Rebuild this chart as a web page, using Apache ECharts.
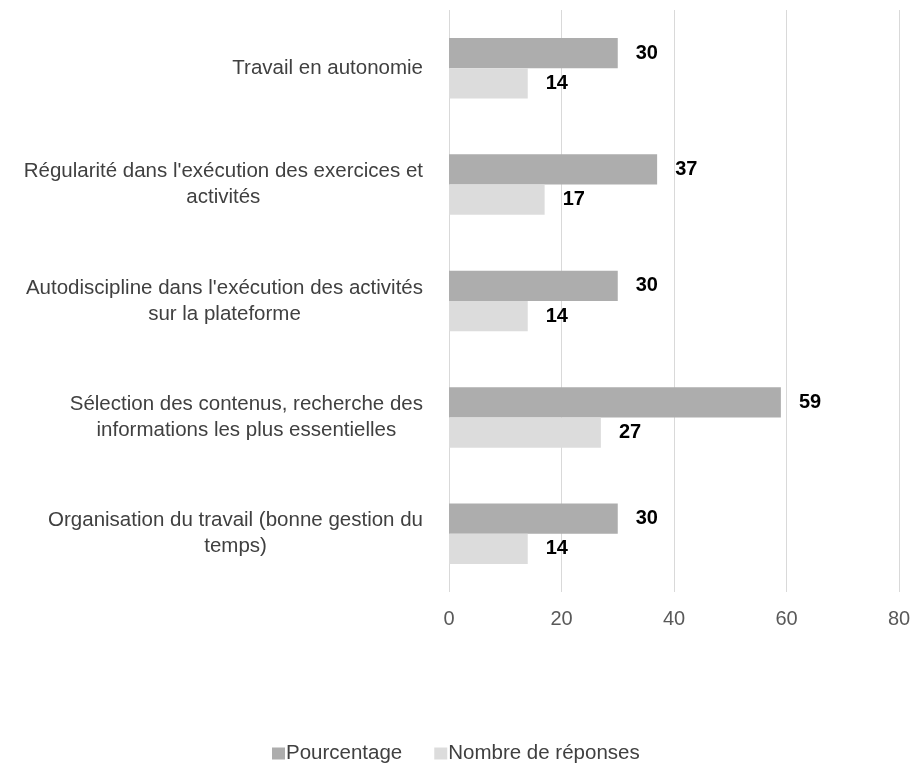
<!DOCTYPE html>
<html>
<head>
<meta charset="utf-8">
<script src="https://cdn.jsdelivr.net/npm/echarts@6/dist/echarts.min.js"></script>
<style>html,body{margin:0;padding:0;background:#fff}#c{width:914px;height:765px}</style>
</head>
<body>
<div id="c"></div>
<script>
var categories = [
  "Travail en autonomie",
  "Régularité dans l'exécution des exercices et\nactivités",
  "Autodiscipline dans l'exécution des activités\nsur la plateforme",
  "Sélection des contenus, recherche des\ninformations les plus essentielles",
  "Organisation du travail (bonne gestion du\ntemps)"
];
var pourcentage = [30, 37, 30, 59, 30];
var nombre = [14, 17, 14, 27, 14];
var xTicks = [0, 20, 40, 60, 80];
var seriesNames = ["Pourcentage", "Nombre de réponses"];

var FONT = 'Liberation Sans, Arial, sans-serif';
var chart = echarts.init(document.getElementById('c'), null, {renderer: 'canvas'});
var labelStyle = {show: true, position: 'right', distance: 18, color: '#000', fontWeight: 'bold', fontSize: 20, fontFamily: FONT};
chart.setOption({
  animation: false,
  backgroundColor: '#fff',
  textStyle: {fontFamily: FONT},
  grid: {left: 449, right: 15, top: 10, bottom: 173, containLabel: false},
  legend: {
    top: 738, left: 267,
    itemWidth: 13, itemHeight: 12, itemGap: 32,
    icon: 'rect',
    textStyle: {fontSize: 20.5, color: '#404040', padding: [0, 0, 0, -4]},
    data: seriesNames
  },
  xAxis: {
    type: 'value', min: xTicks[0], max: xTicks[xTicks.length - 1], interval: 20,
    axisLine: {show: false}, axisTick: {show: false},
    splitLine: {show: true, lineStyle: {color: '#d9d9d9', width: 1}},
    axisLabel: {fontSize: 20, color: '#595959', margin: 17}
  },
  yAxis: {
    type: 'category', inverse: true, data: categories,
    axisLine: {show: false}, axisTick: {show: false},
    axisLabel: {
      margin: 26, fontSize: 20.5, color: '#404040', lineHeight: 26,
      formatter: function (v) {
        return v.split('\n').map(function (s) { return '{c|' + s + '}'; }).join('\n');
      },
      rich: {c: {align: 'center', fontSize: 20.5, color: '#404040', lineHeight: 26}}
    }
  },
  series: [
    {name: seriesNames[0], type: 'bar', data: pourcentage, barGap: '0%', barCategoryGap: '48%',
     itemStyle: {color: '#adadad'}, label: labelStyle},
    {name: seriesNames[1], type: 'bar', data: nombre, barGap: '0%', barCategoryGap: '48%',
     itemStyle: {color: '#dcdcdc'}, label: labelStyle}
  ]
});
</script>
</body>
</html>
